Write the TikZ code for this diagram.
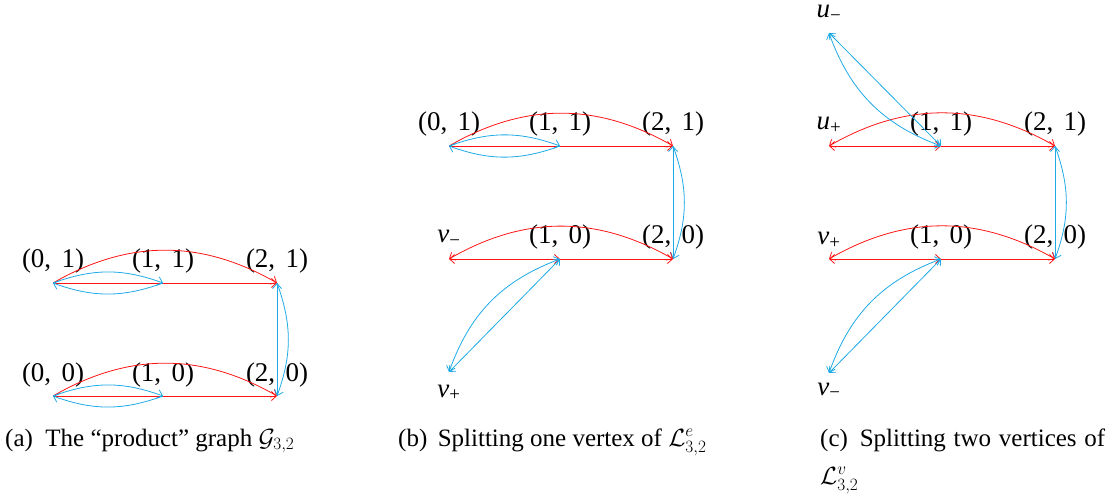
\documentclass[tikz,border=0pt]{standalone}
\usepackage{fontspec}
\setmainfont{Liberation Serif}
\usetikzlibrary{arrows.meta}
\definecolor{myred}{RGB}{255,20,20}
\definecolor{myblue}{RGB}{30,170,230}
\newcommand{\pr}[2]{(#1,\hspace{0.38em}#2)}
\tikzset{
  redge/.style={draw=myred, line width=0.8pt},
  bedge/.style={draw=myblue, line width=0.8pt},
  lbl/.style={font=\fontsize{27}{30}\selectfont, inner sep=0pt, anchor=base},
  captxt/.style={font=\fontsize{25}{29}\selectfont, inner sep=0pt, anchor=base west},
  >={Straight Barb[length=5pt,width=9pt]}
}
\begin{document}
\begin{tikzpicture}[x=1pt,y=1pt]
\useasboundingbox (0,0) rectangle (1115,498);
% ---------- (a)
\coordinate (A01) at (53,215); \coordinate (A11) at (163,215); \coordinate (A21) at (277,215);
\coordinate (A00) at (53,102); \coordinate (A10) at (163,102); \coordinate (A20) at (277,102);
\foreach \n/\a/\b in {A01/0/1,A11/1/1,A21/2/1,A00/0/0,A10/1/0,A20/2/0}{
  \node[lbl] (l\n) at ([yshift=15pt]\n) {\pr{\a}{\b}};
}
\foreach \r in {1,0}{
  \draw[redge,->] (A0\r) -- (A2\r);
  \draw[redge,->] (A0\r) to[bend left=30] (A2\r);
  \draw[bedge,->] (A0\r) to[bend left=20] (A1\r);
  \draw[bedge,->] (A1\r) to[bend left=20] (A0\r);
}
\draw[bedge,->] (A20) -- (A21);
\draw[bedge,->] (A21) to[bend left=20] (A20);
% ---------- (b)
\coordinate (B01) at (449,352); \coordinate (B11) at (560,352); \coordinate (B21) at (673,352);
\coordinate (Bm) at (449,239); \coordinate (B10) at (560,239); \coordinate (B20) at (673,239);
\coordinate (Bp) at (449,126);
\foreach \n/\a/\b in {B01/0/1,B11/1/1,B21/2/1,B10/1/0,B20/2/0}{
  \node[lbl] (l\n) at ([yshift=15pt]\n) {\pr{\a}{\b}};
}
\node[lbl] (lBm) at ([yshift=16pt]Bm) {\textit{v}\textsubscript{−}};
\node[lbl] (lBp) at ([yshift=-25pt]Bp) {\textit{v}\textsubscript{+}};
\draw[redge,->] (B01) -- (B21);
\draw[redge,->] (B01) to[bend left=30] (B21);
\draw[bedge,->] (B01) to[bend left=20] (B11);
\draw[bedge,->] (B11) to[bend left=20] (B01);
\draw[bedge,->] (B20) -- (B21);
\draw[bedge,->] (B21) to[bend left=20] (B20);
\draw[redge,<->] (Bm) -- (B10);
\draw[redge,->] (B10) -- (B20);
\draw[redge,<->] (Bm) to[bend left=30] (B20);
\draw[bedge,<->] (Bp) -- (B10);
\draw[bedge,<->] (B10) to[bend right=25] (Bp);
% ---------- (c)
\coordinate (Cum) at (829,465); \coordinate (Cup) at (829,352); \coordinate (C11) at (941,352); \coordinate (C21) at (1055,352);
\coordinate (Cvp) at (829,239); \coordinate (C10) at (941,239); \coordinate (C20) at (1055,239);
\coordinate (Cvm) at (829,125);
\foreach \n/\a/\b in {C11/1/1,C21/2/1,C10/1/0,C20/2/0}{
  \node[lbl] (l\n) at ([yshift=15pt]\n) {\pr{\a}{\b}};
}
\node[lbl, text height=1.2ex] (lCum) at ([yshift=15pt]Cum) {\textit{u}\textsubscript{−}};
\node[lbl] (lCup) at ([yshift=16pt]Cup) {\textit{u}\textsubscript{+}};
\node[lbl] (lCvp) at ([yshift=14pt]Cvp) {\textit{v}\textsubscript{+}};
\node[lbl] (lCvm) at ([yshift=-22pt]Cvm) {\textit{v}\textsubscript{−}};
\draw[redge,<->] (Cup) -- (C11);
\draw[redge,->] (C11) -- (C21);
\draw[redge,<->] (Cup) to[bend left=30] (C21);
\draw[bedge,<->] (Cum) -- (C11);
\draw[bedge,<->] (Cum) to[bend right=25] (C11);
\draw[bedge,->] (C20) -- (C21);
\draw[bedge,->] (C21) to[bend left=20] (C20);
\draw[redge,<->] (Cvp) -- (C10);
\draw[redge,->] (C10) -- (C20);
\draw[redge,<->] (Cvp) to[bend left=30] (C20);
\draw[bedge,<->] (Cvm) -- (C10);
\draw[bedge,<->] (C10) to[bend right=25] (Cvm);
% ---------- captions
\node[captxt] (capa) at (5,52) {(a)\enspace The “product” graph $\mathcal{G}_{3,2}$};
\node[captxt] (capb) at (398,52) {(b)\, Splitting one vertex of $\mathcal{L}^e_{3,2}$};
\node[captxt] (capc) at (820,52) {\makebox[285pt][s]{(c)\, Splitting two vertices of}};
\node[captxt] (capc2) at (820,14) {$\mathcal{L}^v_{3,2}$};
\end{tikzpicture}
\end{document}
